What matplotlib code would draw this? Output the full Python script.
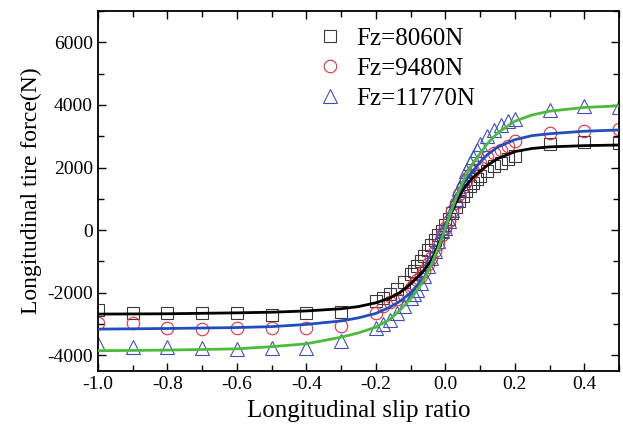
import matplotlib
matplotlib.use("Agg")
import matplotlib.pyplot as plt
from matplotlib.ticker import MultipleLocator

plt.rcParams['font.family'] = ['Liberation Serif', 'DejaVu Serif']
plt.rcParams['mathtext.fontset'] = 'stix'

# ---- measured data points ----
slip = [-1.0, -0.9, -0.8, -0.7, -0.6, -0.5, -0.4, -0.3,
        -0.2, -0.18, -0.16, -0.14, -0.12, -0.1, -0.09, -0.08, -0.07, -0.06,
        -0.05, -0.04, -0.03, -0.02, -0.01, 0.0, 0.01, 0.02, 0.03, 0.04, 0.05,
        0.06, 0.07, 0.08, 0.09, 0.1, 0.12, 0.14, 0.16, 0.18, 0.2,
        0.3, 0.4, 0.5]

fx_8060 = [-2560, -2660, -2660, -2660, -2650, -2720, -2660, -2620,
           -2270, -2180, -2050, -1880, -1650, -1400, -1290, -1140, -980, -820,
           -640, -460, -300, -160, -20, 150, 350, 550, 750, 930, 1100,
           1250, 1400, 1520, 1640, 1740, 1900, 2040, 2150, 2260, 2380,
           2750, 2820, 2790]

fx_9480 = [-2980, -2960, -3110, -3170, -3130, -3120, -3110, -3070,
           -2650, -2430, -2300, -2200, -2060, -1840, -1720, -1590, -1450, -1290,
           -1080, -900, -680, -430, -160, 80, 300, 600, 880, 1140, 1370,
           1570, 1750, 1900, 2030, 2150, 2330, 2450, 2550, 2680, 2850,
           3100, 3180, 3230]

fx_11770 = [-3650, -3720, -3720, -3750, -3780, -3760, -3750, -3530,
            -3130, -3000, -2860, -2650, -2420, -2170, -2030, -1900, -1700, -1450,
            -1150, -890, -670, -350, -30, 80, 300, 650, 980, 1300, 1600,
            1880, 2130, 2350, 2560, 2750, 3000, 3200, 3370, 3480, 3560,
            3830, 3970, 3920]

# ---- fitted curves ----
fit_slip = [-1.0, -0.8, -0.6, -0.5, -0.4, -0.3, -0.25, -0.2, -0.16, -0.13,
            -0.1, -0.08, -0.06, -0.04, -0.03, -0.02, -0.01, 0.0, 0.01, 0.02,
            0.03, 0.04, 0.05, 0.06, 0.08, 0.1, 0.12, 0.15, 0.2, 0.25, 0.3,
            0.4, 0.5]

fit_8060 = [-2680, -2670, -2640, -2620, -2580, -2510, -2440, -2320, -2170, -1990,
            -1720, -1500, -1270, -960, -740, -490, -220, 60, 340, 610,
            860, 1080, 1270, 1430, 1680, 1880, 2060, 2280, 2510, 2610, 2660,
            2700, 2720]

fit_9480 = [-3160, -3140, -3110, -3080, -3010, -2900, -2800, -2660, -2460, -2270,
            -2000, -1760, -1500, -1100, -860, -580, -270, 50, 380, 690,
            980, 1230, 1440, 1620, 1900, 2170, 2400, 2650, 2890, 3020, 3080,
            3160, 3200]

fit_11770 = [-3850, -3830, -3790, -3720, -3630, -3420, -3280, -3100, -2850, -2550,
             -2200, -1900, -1550, -1100, -830, -560, -260, 60, 380, 700,
             1000, 1280, 1530, 1760, 2150, 2450, 2750, 3100, 3480, 3680, 3800,
             3920, 3970]

labels = ['Fz=8060N', 'Fz=9480N', 'Fz=11770N']
xticks = [-1.0, -0.8, -0.6, -0.4, -0.2, 0.0, 0.2, 0.4]
yticks = [-4000, -2000, 0, 2000, 4000, 6000]

fig = plt.figure(figsize=(6.23, 4.28), dpi=100)
ax = fig.add_axes([0.157, 0.133, 0.8366, 0.8413])

ms = 8.5
mew = 0.8
ax.plot(slip, fx_8060, linestyle='none', marker='s', ms=ms, mfc='none',
        mec='#3a3a3a', mew=mew, label=labels[0], zorder=2)
ax.plot(slip, fx_9480, linestyle='none', marker='o', ms=ms + 0.5, mfc='none',
        mec='#e0303a', mew=mew, label=labels[1], zorder=2)
ax.plot(slip, fx_11770, linestyle='none', marker='^', ms=ms + 1, mfc='none',
        mec='#3e4fc4', mew=mew, label=labels[2], zorder=2)

ax.plot(fit_slip, fit_8060, color='black', lw=2.0, zorder=3)
ax.plot(fit_slip, fit_9480, color='#1f4fbf', lw=2.0, zorder=3)
ax.plot(fit_slip, fit_11770, color='#4cbb3a', lw=2.0, zorder=3)

ax.set_xlim(-1.0, 0.5)
ax.set_ylim(-4500, 7000)
ax.set_xticks(xticks)
ax.set_xticklabels([f'{v:.1f}' for v in xticks])
ax.set_yticks(yticks)
ax.set_yticklabels([str(v) for v in yticks])
ax.xaxis.set_minor_locator(MultipleLocator(0.1))
ax.yaxis.set_minor_locator(MultipleLocator(1000))

ax.tick_params(which='both', direction='in', top=True, right=True,
               labelsize=14, width=1.0)
ax.tick_params(which='major', length=6)
ax.tick_params(which='minor', length=4)
for s in ax.spines.values():
    s.set_linewidth(1.3)

ax.set_xlabel('Longitudinal slip ratio', fontsize=18, labelpad=5)
ax.set_ylabel('Longitudinal tire force(N)', fontsize=17, labelpad=4)

ax.legend(loc='upper left', bbox_to_anchor=(0.385, 1.0), frameon=False,
          fontsize=18, handlelength=1.2, handletextpad=0.45,
          labelspacing=0.3, borderaxespad=0.25)

fig.savefig('out.png', dpi=100)
